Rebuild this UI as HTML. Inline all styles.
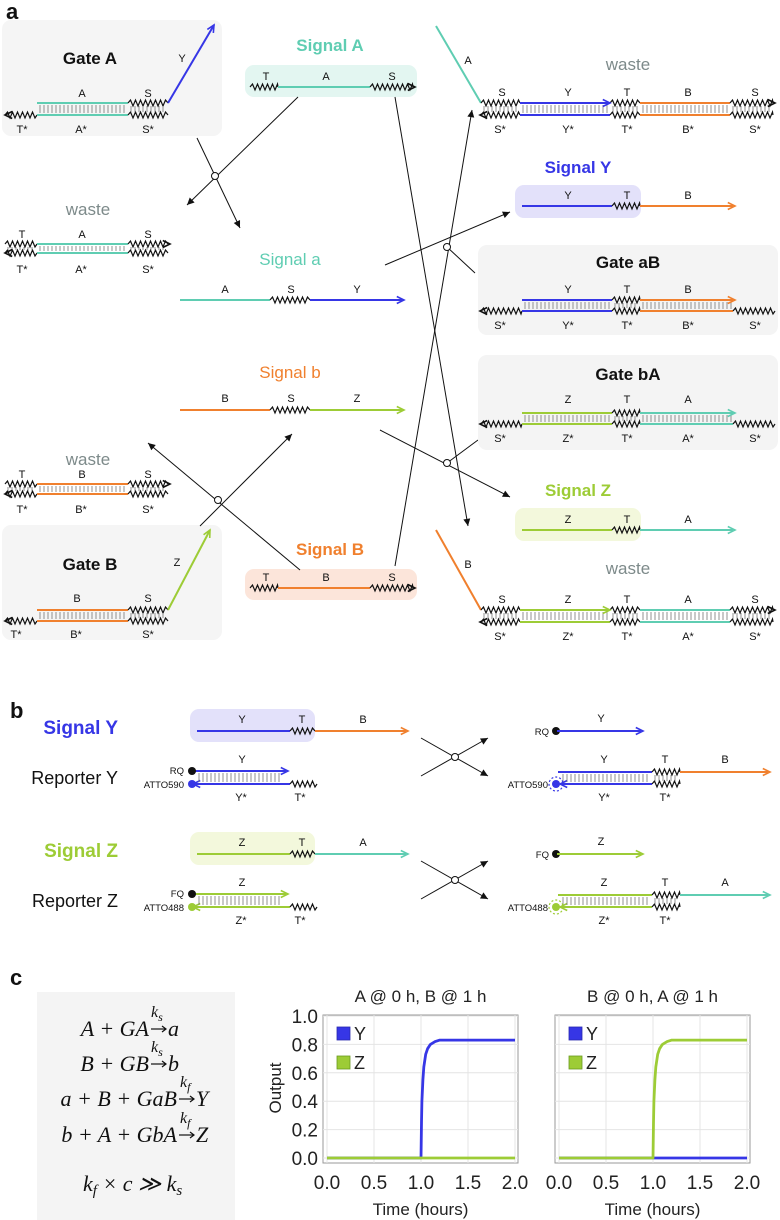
<!DOCTYPE html>
<html><head><meta charset="utf-8">
<style>
html,body{margin:0;padding:0;background:#fff;}
svg{display:block;font-family:"Liberation Sans",sans-serif;}
</style></head>
<body>
<svg id="fig" width="780" height="1220" viewBox="0 0 780 1220" xmlns="http://www.w3.org/2000/svg">
 <g id="diagram"></g>
 <g id="eqs">
  <rect x="37" y="992" width="198" height="228" fill="#f4f4f4"/>
  <g font-family="'Liberation Serif',serif" font-style="italic" font-size="22" fill="#111">
   <text x="149" y="1036" text-anchor="end">A + GA</text>
   <g stroke="#111" stroke-width="1.2" fill="none"><line x1="151" y1="1029" x2="166" y2="1029"/><polyline points="162,1026 166,1029 162,1032"/></g>
   <text x="151" y="1017" font-size="16">k<tspan font-size="12" dy="4">s</tspan></text>
   <text x="168" y="1036">a</text>
   <text x="149" y="1071" text-anchor="end">B + GB</text>
   <g stroke="#111" stroke-width="1.2" fill="none"><line x1="151" y1="1064" x2="166" y2="1064"/><polyline points="162,1061 166,1064 162,1067"/></g>
   <text x="151" y="1052" font-size="16">k<tspan font-size="12" dy="4">s</tspan></text>
   <text x="168" y="1071">b</text>
   <text x="177" y="1106" text-anchor="end">a + B + GaB</text>
   <g stroke="#111" stroke-width="1.2" fill="none"><line x1="179" y1="1099" x2="194" y2="1099"/><polyline points="190,1096 194,1099 190,1102"/></g>
   <text x="180" y="1087" font-size="16">k<tspan font-size="12" dy="4">f</tspan></text>
   <text x="196" y="1106">Y</text>
   <text x="177" y="1142" text-anchor="end">b + A + GbA</text>
   <g stroke="#111" stroke-width="1.2" fill="none"><line x1="179" y1="1135" x2="194" y2="1135"/><polyline points="190,1132 194,1135 190,1138"/></g>
   <text x="180" y="1123" font-size="16">k<tspan font-size="12" dy="4">f</tspan></text>
   <text x="196" y="1142">Z</text>
   <text x="83" y="1191">k<tspan font-size="15" dy="4">f</tspan><tspan dy="-4"> × c ≫ k</tspan><tspan font-size="15" dy="4">s</tspan></text>
  </g>
 </g>
 <g id="charts"></g>
</svg>
<script>
// ---- chart data ----
const timeHours = [0, 0.5, 0.99, 1.0, 1.005, 1.01, 1.02, 1.03, 1.05, 1.07, 1.1, 1.15, 1.2, 1.3, 1.5, 2.0];
const chart1Y = [0, 0, 0, 0, 0.25, 0.4, 0.55, 0.64, 0.73, 0.77, 0.80, 0.82, 0.83, 0.83, 0.83, 0.83];
const chart1Z = [0, 0, 0, 0, 0, 0, 0, 0, 0, 0, 0, 0, 0, 0, 0, 0];
const chart2Y = [0, 0, 0, 0, 0, 0, 0, 0, 0, 0, 0, 0, 0, 0, 0, 0];
const chart2Z = [0, 0, 0, 0, 0.25, 0.4, 0.55, 0.64, 0.73, 0.77, 0.80, 0.82, 0.83, 0.83, 0.83, 0.83];
const xTicks = [0, 0.5, 1.0, 1.5, 2.0];
const xTickLabels = ["0.0", "0.5", "1.0", "1.5", "2.0"];
const yTicks = [0, 0.2, 0.4, 0.6, 0.8, 1.0];
const yTickLabels = ["0.0", "0.2", "0.4", "0.6", "0.8", "1.0"];
const chartTitles = ["A @ 0 h, B @ 1 h", "B @ 0 h, A @ 1 h"];
const seriesNames = ["Y", "Z"];

const NS = "http://www.w3.org/2000/svg";
const TEAL = "#5fcdb2", BLUE = "#3636e6", ORANGE = "#f0802e", GREEN = "#9dcc36", BLK = "#111";
function mk(tag, attrs, parent) {
  const e = document.createElementNS(NS, tag);
  for (const k in attrs) e.setAttribute(k, attrs[k]);
  parent.appendChild(e);
  return e;
}
const D = document.getElementById("diagram");

function zzPath(x1, x2, y, amp, phase) {
  let d = "M" + x1 + " " + y;
  let s = phase || 1;
  for (let x = x1 + 2.5; x < x2; x += 2.5) { d += " L" + x.toFixed(1) + " " + (y - s * amp); s = -s; }
  d += " L" + x2 + " " + y;
  return d;
}
function zz(x1, x2, y, name, amp) {
  const p = mk("path", {d: zzPath(x1, x2, y, amp || 3, 1), fill: "none", stroke: BLK, "stroke-width": 1.2}, D);
  
  
  return p;
}
function strand(x1, x2, y, c, name) {
  const l = mk("line", {x1: x1, y1: y, x2: x2, y2: y, stroke: c, "stroke-width": 2}, D);
  
  
  return l;
}
function rungs(x1, x2, y1, y2) {
  const g = mk("g", {stroke: "#777", "stroke-width": 0.8}, D);
  
  
  for (let x = x1 + 3; x < x2 - 1; x += 4) mk("line", {x1: x, y1: y1, x2: x, y2: y2}, g);
}
function head(x, y, ang, c, filled) {
  const a = ang * Math.PI / 180, L = 8, w = 0.45;
  const p1 = [x - L * Math.cos(a - w), y - L * Math.sin(a - w)];
  const p2 = [x - L * Math.cos(a + w), y - L * Math.sin(a + w)];
  let e;
  if (filled) e = mk("polygon", {points: p1.join(",") + " " + x + "," + y + " " + p2.join(","), fill: c}, D);
  else e = mk("polyline", {points: p1.join(",") + " " + x + "," + y + " " + p2.join(","), fill: "none", stroke: c, "stroke-width": 1.6}, D);
  
  
}
function line(x1, y1, x2, y2, c, w, arrow, name) {
  const l = mk("line", {x1: x1, y1: y1, x2: x2, y2: y2, stroke: c, "stroke-width": w || 1}, D);
  
  
  if (arrow) head(x2, y2, Math.atan2(y2 - y1, x2 - x1) * 180 / Math.PI, c, arrow === "fill");
}
function txt(x, y, s, size, c, weight, name, anchor) {
  const t = mk("text", {x: x, y: y, "font-size": size, fill: c || BLK, "font-weight": weight || "normal", "text-anchor": anchor || "middle"}, D);
  t.textContent = s;
  
  
  return t;
}
function box(x, y, w, h, c, name) {
  const r = mk("rect", {x: x, y: y, width: w, height: h, rx: 9, fill: c}, D);
  
  
}
function circ(x, y, name) {
  const c = mk("circle", {cx: x, cy: y, r: 3.5, fill: "#fff", stroke: BLK, "stroke-width": 1}, D);
  
  
}
function dot(x, y, c) {
  const e = mk("circle", {cx: x, cy: y, r: 4, fill: c}, D);
  
  
}
function duplex(yt, yb, parts) {
  parts.forEach(p => {
    const [x1, x2, t, b, c] = p;
    if (t === 's') strand(x1, x2, yt, c); if (t === 'z') zz(x1, x2, yt);
    if (b === 's') strand(x1, x2, yb, c); if (b === 'z') zz(x1, x2, yb);
    if (t === 's' && b === 's') rungs(x1, x2, yt + 2, yb - 2);
    if (t === 'z' && b === 'z') rungs(x1, x2, yt + 3, yb - 3);
  });
}
const small = 11;

// ---------- panel a ----------
txt(6, 19, "a", 22, BLK, "bold", "panel-a-label", "start");
box(2, 20, 220, 116, "#f5f5f5", "gate-a-box");
txt(90, 64, "Gate A", 17, BLK, "bold", "gate-a-title");
duplex(103, 115, [[5, 37, null, 'z'], [37, 128, 's', 's', TEAL], [128, 168, 'z', 'z']]);
head(5, 115, 180, BLK); line(168, 103, 214, 25, BLUE, 2, "open", "gate-a-output-strand");
txt(82, 97, "A", small); txt(148, 97, "S", small); txt(182, 62, "Y", small);
txt(22, 133, "T*", small); txt(81, 133, "A*", small); txt(148, 133, "S*", small);

txt(330, 51, "Signal A", 17, TEAL, "bold", "signal-a-title");
box(245, 65, 172, 32, "#e3f6f1", "signal-a-box");
zz(250, 278, 87); strand(278, 370, 87, TEAL); zz(370, 413, 87); head(415, 87, 0, BLK);
txt(266, 80, "T", small); txt(326, 80, "A", small); txt(392, 80, "S", small);

line(298, 97, 187, 205, BLK, 1, "fill"); line(197, 138, 240, 228, BLK, 1, "fill"); circ(215, 176);

txt(88, 215, "waste", 17, "#7d8a8a", "normal", "waste-1-title");
duplex(244, 253, [[5, 37, 'z', 'z'], [37, 128, 's', 's', TEAL], [128, 168, 'z', 'z']]);
head(5, 253, 180, BLK); head(170, 244, 0, BLK);
txt(22, 238, "T", small); txt(82, 238, "A", small); txt(148, 238, "S", small);
txt(22, 273, "T*", small); txt(81, 273, "A*", small); txt(148, 273, "S*", small);

txt(290, 265, "Signal a", 17, TEAL, "normal", "signal-a-lower-title");
strand(180, 270, 300, TEAL); zz(270, 310, 300); strand(310, 403, 300, BLUE); head(404, 300, 0, BLUE);
txt(225, 293, "A", small); txt(291, 293, "S", small); txt(357, 293, "Y", small);

txt(290, 378, "Signal b", 17, ORANGE, "normal", "signal-b-lower-title");
strand(180, 270, 410, ORANGE); zz(270, 310, 410); strand(310, 403, 410, GREEN); head(404, 410, 0, GREEN);
txt(225, 402, "B", small); txt(291, 402, "S", small); txt(357, 402, "Z", small);

txt(88, 465, "waste", 17, "#7d8a8a", "normal", "waste-2-title");
duplex(484, 494, [[5, 37, 'z', 'z'], [37, 128, 's', 's', ORANGE], [128, 168, 'z', 'z']]);
head(5, 494, 180, BLK); head(170, 484, 0, BLK);
txt(22, 478, "T", small); txt(82, 478, "B", small); txt(148, 478, "S", small);
txt(22, 513, "T*", small); txt(81, 513, "B*", small); txt(148, 513, "S*", small);

box(2, 525, 220, 115, "#f5f5f5", "gate-b-box");
txt(90, 570, "Gate B", 17, BLK, "bold", "gate-b-title");
duplex(610, 621, [[5, 37, null, 'z'], [37, 128, 's', 's', ORANGE], [128, 168, 'z', 'z']]);
head(5, 621, 180, BLK); line(168, 610, 210, 530, GREEN, 2, "open", "gate-b-output-strand");
txt(77, 602, "B", small); txt(148, 602, "S", small); txt(177, 566, "Z", small);
txt(16, 638, "T*", small); txt(76, 638, "B*", small); txt(148, 638, "S*", small);

txt(330, 555, "Signal B", 17, ORANGE, "bold", "signal-b-title");
box(245, 569, 172, 31, "#fce5da", "signal-b-box");
zz(250, 278, 588); strand(278, 370, 588, ORANGE); zz(370, 413, 588); head(415, 588, 0, BLK);
txt(266, 581, "T", small); txt(326, 581, "B", small); txt(392, 581, "S", small);

line(200, 526, 292, 434, BLK, 1, "fill"); line(300, 570, 148, 443, BLK, 1, "fill"); circ(218, 500);

line(395, 97, 468, 526, BLK, 1, "fill"); line(395, 566, 472, 110, BLK, 1, "fill");
line(385, 265, 510, 212, BLK, 1, "fill"); line(447, 247, 475, 273, BLK, 1);
line(380, 430, 510, 497, BLK, 1, "fill"); line(447, 463, 478, 440, BLK, 1);
circ(447, 247); circ(447, 463);

txt(628, 70, "waste", 17, "#7d8a8a", "normal", "waste-3-title");
line(436, 26, 481, 103, TEAL, 2, null, "waste-3-input-strand"); txt(468, 64, "A", small);
duplex(103, 115, [[481, 520, 'z', 'z'], [520, 610, 's', 's', BLUE], [610, 640, 'z', 'z'], [640, 730, 's', 's', ORANGE], [730, 773, 'z', 'z']]);
head(610, 103, 0, BLUE); head(775, 103, 0, BLK); head(480, 115, 180, BLK);
[[502, "S"], [568, "Y"], [627, "T"], [688, "B"], [755, "S"]].forEach(a => txt(a[0], 96, a[1], small));
[[500, "S*"], [568, "Y*"], [627, "T*"], [688, "B*"], [755, "S*"]].forEach(a => txt(a[0], 133, a[1], small));

txt(578, 173, "Signal Y", 17, BLUE, "bold", "signal-y-title");
box(515, 185, 126, 33, "#e3e1fa", "signal-y-box");
strand(522, 612, 206, BLUE); zz(612, 640, 206); strand(640, 733, 206, ORANGE); head(735, 206, 0, ORANGE);
txt(568, 199, "Y", small); txt(627, 199, "T", small); txt(688, 199, "B", small);

box(478, 245, 300, 90, "#f4f4f4", "gate-ab-box");
txt(628, 268, "Gate aB", 17, BLK, "bold", "gate-ab-title");
duplex(300, 311, [[481, 522, null, 'z'], [522, 612, 's', 's', BLUE], [612, 640, 'z', 'z'], [640, 733, 's', 's', ORANGE], [733, 775, null, 'z']]);
head(735, 300, 0, ORANGE); head(480, 311, 180, BLK);
[[568, "Y"], [627, "T"], [688, "B"]].forEach(a => txt(a[0], 293, a[1], small));
[[500, "S*"], [568, "Y*"], [627, "T*"], [688, "B*"], [755, "S*"]].forEach(a => txt(a[0], 329, a[1], small));

box(478, 355, 300, 95, "#f4f4f4", "gate-ba-box");
txt(628, 380, "Gate bA", 17, BLK, "bold", "gate-ba-title");
duplex(413, 424, [[481, 522, null, 'z'], [522, 612, 's', 's', GREEN], [612, 640, 'z', 'z'], [640, 733, 's', 's', TEAL], [733, 775, null, 'z']]);
head(735, 413, 0, TEAL); head(480, 424, 180, BLK);
[[568, "Z"], [627, "T"], [688, "A"]].forEach(a => txt(a[0], 403, a[1], small));
[[500, "S*"], [568, "Z*"], [627, "T*"], [688, "A*"], [755, "S*"]].forEach(a => txt(a[0], 442, a[1], small));

txt(578, 496, "Signal Z", 17, GREEN, "bold", "signal-z-title");
box(515, 508, 126, 33, "#f3f8dc", "signal-z-box");
strand(522, 612, 530, GREEN); zz(612, 640, 530); strand(640, 733, 530, TEAL); head(735, 530, 0, TEAL);
txt(568, 523, "Z", small); txt(627, 523, "T", small); txt(688, 523, "A", small);

txt(628, 574, "waste", 17, "#7d8a8a", "normal", "waste-4-title");
line(436, 530, 481, 610, ORANGE, 2, null, "waste-4-input-strand"); txt(468, 568, "B", small);
duplex(610, 622, [[481, 520, 'z', 'z'], [520, 610, 's', 's', GREEN], [610, 640, 'z', 'z'], [640, 730, 's', 's', TEAL], [730, 773, 'z', 'z']]);
head(610, 610, 0, GREEN); head(775, 610, 0, BLK); head(480, 622, 180, BLK);
[[502, "S"], [568, "Z"], [627, "T"], [688, "A"], [755, "S"]].forEach(a => txt(a[0], 603, a[1], small));
[[500, "S*"], [568, "Z*"], [627, "T*"], [688, "A*"], [755, "S*"]].forEach(a => txt(a[0], 640, a[1], small));

// ---------- panel b ----------
txt(10, 718, "b", 22, BLK, "bold", "panel-b-label", "start");
function reporterPanel(y0, col, lightCol, sig, out, outCol, quencher, dye, name) {
  txt(118, y0 + 3, "Signal " + sig, 19, col, "bold", name + "-signal-title", "end");
  box(190, y0 - 22, 125, 33, lightCol, name + "-signal-box");
  strand(197, 290, y0, col); zz(290, 315, y0); strand(315, 406, y0, outCol); head(408, y0, 0, outCol);
  txt(242, y0 - 8, sig, small); txt(302, y0 - 8, "T", small); txt(363, y0 - 8, out, small);
  const ry = y0 + 40;
  txt(118, ry + 13, "Reporter " + sig, 18, BLK, "normal", name + "-reporter-title", "end");
  strand(193, 286, ry, col); head(288, ry, 0, col); strand(193, 290, ry + 13, col); head(193, ry + 13, 180, col);
  rungs(196, 284, ry + 2, ry + 11); zz(290, 317, ry + 13);
  dot(192, ry, BLK); dot(192, ry + 13, col);
  txt(184, ry + 3, quencher, 9.5, BLK, "normal", "quencher-label", "end");
  txt(184, ry + 17, dye, 9.5, BLK, "normal", "dye-label", "end");
  txt(242, ry - 8, sig, small); txt(241, ry + 30, sig + "*", small); txt(300, ry + 30, "T*", small);
  const cy = y0 + 26;
  line(421, cy + 19, 488, cy - 19, BLK, 1, "fill"); line(421, cy - 19, 488, cy + 19, BLK, 1, "fill"); circ(455, cy);
  dot(556, y0, BLK); strand(557, 641, y0, col); head(643, y0, 0, col);
  txt(549, y0 + 4, quencher, 9.5, BLK, "normal", "quencher-label", "end"); txt(601, y0 - 9, sig, small);
  strand(558, 652, ry + 1, col); zz(652, 680, ry + 1); strand(680, 768, ry + 1, outCol); head(770, ry + 1, 0, outCol);
  strand(560, 652, ry + 13, col); head(560, ry + 13, 180, col); zz(652, 680, ry + 13);
  rungs(560, 650, ry + 3, ry + 11); rungs(652, 680, ry + 4, ry + 10);
  dot(556, ry + 13, col);
  const st = mk("circle", {cx: 556, cy: ry + 13, r: 7, fill: "none", stroke: col, "stroke-width": 1.2, "stroke-dasharray": "2 2"}, D);
  
  
  txt(548, ry + 17, dye, 9.5, BLK, "normal", "dye-label", "end");
  txt(604, ry - 8, sig, small); txt(665, ry - 8, "T", small); txt(725, ry - 8, out, small);
  txt(604, ry + 30, sig + "*", small); txt(665, ry + 30, "T*", small);
}
reporterPanel(731, BLUE, "#e3e1fa", "Y", "B", ORANGE, "RQ", "ATTO590", "y");
reporterPanel(854, GREEN, "#f3f8dc", "Z", "A", TEAL, "FQ", "ATTO488", "z");

txt(10, 985, "c", 22, BLK, "bold", "panel-c-label", "start");

// ---------- charts ----------
const C = document.getElementById("charts");
function drawChart(idx, left, right, seriesY, seriesZ) {
  const top = 1015, bottom = 1163;
  const x0 = left + 4, x1 = right - 3;
  const xS = t => x0 + (x1 - x0) * t / 2;
  const yS = v => 1158 - v * 142;
  const g = mk("g", {}, C);
  
  
  const fr = mk("rect", {x: left, y: top, width: right - left, height: bottom - top, fill: "#fff", stroke: "#999", "stroke-width": 1}, g);
  
  
  xTicks.forEach((t, i) => {
    const gl = mk("line", {x1: xS(t), x2: xS(t), y1: top, y2: bottom, stroke: "#e4e4e4", "stroke-width": 1}, g);
    
    
    const tl = mk("text", {x: xS(t), y: 1189, "font-size": 19, "text-anchor": "middle", fill: "#222"}, g);
    tl.textContent = xTickLabels[i];
    
    
  });
  yTicks.forEach((v, i) => {
    const gl = mk("line", {x1: left, x2: right, y1: yS(v), y2: yS(v), stroke: "#e4e4e4", "stroke-width": 1}, g);
    
    
    if (idx === 0) {
      const tl = mk("text", {x: left - 5, y: yS(v) + 7, "font-size": 19, "text-anchor": "end", fill: "#222"}, g);
      tl.textContent = yTickLabels[i];
      
      
    }
  });
  const title = mk("text", {x: (left + right) / 2, y: 1002, "font-size": 17, "text-anchor": "middle", fill: "#222"}, g);
  title.textContent = chartTitles[idx];
  
  
  const xt = mk("text", {x: (left + right) / 2, y: 1215, "font-size": 17, "text-anchor": "middle", fill: "#222"}, g);
  xt.textContent = "Time (hours)";
  
  
  [[seriesY, BLUE], [seriesZ, GREEN]].forEach(([s, c], k) => {
    const pts = timeHours.map((t, i) => xS(t).toFixed(1) + "," + yS(s[i]).toFixed(1)).join(" ");
    const pl = mk("polyline", {points: pts, fill: "none", stroke: c, "stroke-width": 2.8, "stroke-linejoin": "round"}, g);
    
    
  });
  [[BLUE, "#2a2ab0"], [GREEN, "#6a9a20"]].forEach(([c, sc], k) => {
    const ly = 1027 + k * 29;
    const sq = mk("rect", {x: left + 14, y: ly, width: 13, height: 13, fill: c, stroke: sc, "stroke-width": 0.8}, g);
    
    
    const lt = mk("text", {x: left + 31, y: ly + 13, "font-size": 18, fill: "#222"}, g);
    lt.textContent = seriesNames[k];
    
    
  });
}
drawChart(0, 323, 518, chart1Y, chart1Z);
drawChart(1, 555, 750, chart2Y, chart2Z);
const yl = mk("text", {x: 0, y: 0, "font-size": 17, "text-anchor": "middle", fill: "#222", transform: "translate(281,1088) rotate(-90)"}, C);
yl.textContent = "Output";


</script>
</body></html>
